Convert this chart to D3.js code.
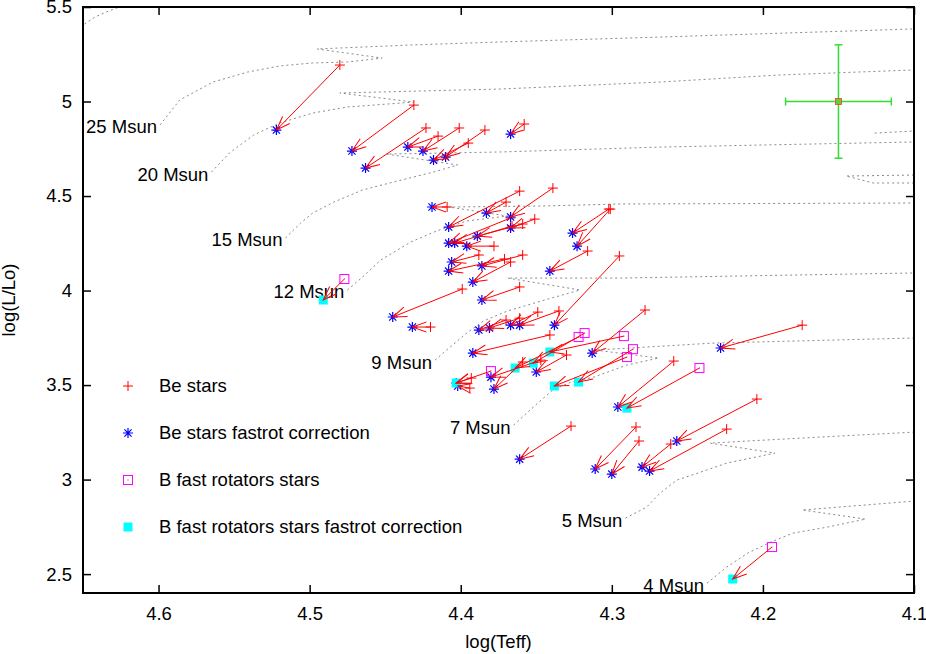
<!DOCTYPE html>
<html>
<head>
<meta charset="utf-8">
<script src="https://cdn.jsdelivr.net/npm/d3@7"></script>
<style>
  body { margin: 0; background: #fff; }
  text { font-family: "Liberation Sans", Arial, sans-serif; font-size: 18.5px; fill: #000; }
</style>
</head>
<body>
<svg class="chart" width="926" height="654"></svg>
<script>
// ---- data (log Teff, log L/Lo) ----
let beTeff     = [4.480, 4.431, 4.423, 4.415, 4.401, 4.384, 4.395, 4.358,
                  4.409, 4.370, 4.361, 4.339, 4.351, 4.359, 4.367, 4.366, 4.378, 4.388, 4.359, 4.367, 4.371, 4.361, 4.399, 4.420, 4.349, 4.335, 4.370, 4.361, 4.295, 4.302, 4.301, 4.316,
                  4.341, 4.278, 4.174, 4.259, 4.204, 4.284, 4.282, 4.261, 4.224, 4.327, 4.330, 4.359, 4.347, 4.393, 4.394];
let beLum      = [5.193, 4.981, 4.860, 4.817, 4.860, 4.849, 4.780, 4.881,
                  4.442, 4.468, 4.526, 4.542, 4.378, 4.352, 4.384, 4.341, 4.235, 4.188, 4.188, 4.151, 4.167, 4.019, 4.008, 3.807, 3.886, 3.892, 3.844, 3.854, 4.183, 4.431, 4.431, 4.209,
                  3.765, 3.897, 3.817, 3.627, 3.426, 3.278, 3.204, 3.188, 3.267, 3.283, 3.659, 3.622, 3.632, 3.537, 3.484];
let beCorrTeff = [4.522, 4.472, 4.463, 4.435, 4.425, 4.410, 4.418, 4.367,
                  4.419, 4.383, 4.408, 4.367, 4.367, 4.389, 4.408, 4.404, 4.396, 4.406, 4.386, 4.392, 4.408, 4.386, 4.445, 4.432, 4.367, 4.361, 4.388, 4.381, 4.338, 4.326, 4.323, 4.341,
                  4.392, 4.313, 4.228, 4.296, 4.257, 4.311, 4.300, 4.280, 4.275, 4.361, 4.350, 4.378, 4.380, 4.403, 4.402];
let beCorrLum  = [4.849, 4.738, 4.648, 4.759, 4.738, 4.706, 4.690, 4.828,
                  4.442, 4.410, 4.336, 4.389, 4.331, 4.288, 4.251, 4.251, 4.235, 4.151, 4.130, 4.045, 4.103, 3.950, 3.860, 3.807, 3.817, 3.817, 3.791, 3.802, 3.817, 4.304, 4.235, 4.103,
                  3.669, 3.669, 3.696, 3.384, 3.204, 3.056, 3.029, 3.066, 3.045, 3.108, 3.569, 3.479, 3.542, 3.511, 3.495];

let bfTeff     = [4.477, 4.380, 4.322, 4.318, 4.292, 4.286, 4.290, 4.242, 4.194];
let bfLum      = [4.061, 3.574, 3.754, 3.775, 3.759, 3.690, 3.648, 3.590, 2.643];
let bfCorrTeff = [4.491, 4.403, 4.364, 4.352, 4.341, 4.322, 4.338, 4.290, 4.220];
let bfCorrLum  = [3.950, 3.511, 3.590, 3.616, 3.675, 3.516, 3.495, 3.378, 2.474];

// evolutionary tracks
let track40 = [[4.649,5.410],[4.642,5.447],[4.633,5.479],[4.624,5.505]];
let track25 = [[4.599,4.876],[4.586,5.008],[4.564,5.103],[4.541,5.156],[4.520,5.188],[4.498,5.204],[4.475,5.209],[4.452,5.230],[4.495,5.278],[4.433,5.299],[4.374,5.315],[4.268,5.341],[4.100,5.384]];
let track20 = [[4.565,4.627],[4.553,4.728],[4.537,4.823],[4.520,4.886],[4.498,4.939],[4.475,4.971],[4.431,4.997],[4.480,5.045],[4.374,5.066],[4.268,5.103],[4.190,5.140],[4.100,5.167]];
let track15 = [[4.516,4.278],[4.506,4.357],[4.498,4.410],[4.484,4.468],[4.465,4.532],[4.447,4.569],[4.418,4.627],[4.402,4.664],[4.449,4.722],[4.374,4.733],[4.268,4.759],[4.100,4.786]];
let track12 = [[4.475,4.003],[4.465,4.071],[4.453,4.161],[4.433,4.257],[4.416,4.315],[4.396,4.368],[4.369,4.394],[4.408,4.442],[4.347,4.447],[4.294,4.458],[4.100,4.463]];
let track9  = [[4.417,3.632],[4.407,3.701],[4.396,3.775],[4.385,3.839],[4.369,3.892],[4.347,3.944],[4.321,4.003],[4.369,4.066],[4.294,4.066],[4.100,4.093]];
let track7  = [[4.365,3.288],[4.349,3.405],[4.339,3.474],[4.327,3.516],[4.312,3.542],[4.290,3.606],[4.269,3.643],[4.311,3.685],[4.233,3.722],[4.100,3.749]];
let track5  = [[4.291,2.796],[4.277,2.854],[4.268,2.929],[4.257,2.997],[4.241,3.040],[4.224,3.087],[4.192,3.140],[4.235,3.193],[4.162,3.225],[4.100,3.251]];
let track4  = [[4.237,2.452],[4.224,2.537],[4.210,2.611],[4.195,2.669],[4.180,2.717],[4.157,2.749],[4.132,2.791],[4.174,2.839],[4.100,2.886]];
let loopA   = [[4.126,4.833],[4.100,4.844]];
let loopB   = [[4.100,4.611],[4.145,4.606],[4.127,4.569],[4.100,4.569]];

let trackLabels = ['25 Msun', '20 Msun', '15 Msun', '12 Msun', '9 Msun', '7 Msun', '5 Msun', '4 Msun'];
let labelledTracks = [track25, track20, track15, track12, track9, track7, track5, track4];

let errTeff = [4.15], errLum = [5.0], errDTeff = [0.035], errDLum = [0.3];

let xTicks = [4.6, 4.5, 4.4, 4.3, 4.2, 4.1];
let xTickLabels = ['4.6', '4.5', '4.4', '4.3', '4.2', '4.1'];
let yTicks = [2.5, 3, 3.5, 4, 4.5, 5, 5.5];
let yTickLabels = ['2.5', '3', '3.5', '4', '4.5', '5', '5.5'];

let legendNames = ['Be stars', 'Be stars fastrot correction', 'B fast rotators stars', 'B fast rotators stars fastrot correction'];

// ---- layout ----
let margin = { top: 7, right: 12, bottom: 61, left: 83 };
let width = 926 - margin.left - margin.right;
let height = 654 - margin.top - margin.bottom;

let x = d3.scaleLinear().domain([4.65, 4.1]).range([0, width]);
let y = d3.scaleLinear().domain([2.4, 5.5]).range([height, 0]);

let svg = d3.select('.chart');
let defs = svg.append('defs');

defs.append('clipPath').attr('id', 'plotclip')
  .append('rect').attr('width', width).attr('height', height);

defs.append('marker')
    .attr('id', 'head')
    .attr('markerUnits', 'userSpaceOnUse')
    .attr('viewBox', '-16 -8 18 16')
    .attr('markerWidth', 18).attr('markerHeight', 16)
    .attr('refX', 0).attr('refY', 0)
    .attr('orient', 'auto')
  .append('path')
    .attr('d', 'M-14,-5L0,0L-14,5')
    .attr('fill', 'none')
    .attr('stroke', '#ff0000')
    .attr('stroke-width', 1);

let chart = svg.append('g')
    .attr('transform', 'translate(' + margin.left + ',' + margin.top + ')');

// axes: inward ticks on all four sides
let xAxis = d3.axisBottom(x).tickValues(xTicks).tickSize(-8).tickPadding(14)
    .tickFormat((d, i) => xTickLabels[i]);
let yAxis = d3.axisLeft(y).tickValues(yTicks).tickSize(-8).tickPadding(11)
    .tickFormat((d, i) => yTickLabels[i]);

chart.append('g').attr('transform', 'translate(0,' + height + ')').call(xAxis);
chart.append('g').call(yAxis);
chart.append('g').call(d3.axisTop(x).tickValues(xTicks).tickSize(-8).tickFormat(''));
chart.append('g').attr('transform', 'translate(' + width + ',0)')
    .call(d3.axisRight(y).tickValues(yTicks).tickSize(-8).tickFormat(''));

chart.selectAll('.domain').remove();
chart.selectAll('.tick line').attr('stroke', '#000').attr('stroke-width', 1.5);
chart.selectAll('.tick text').style('font-size', '18.5px').attr('fill', '#000');

// tracks
let line = d3.line().x(d => x(d[0])).y(d => y(d[1]));
let allTracks = labelledTracks.concat([track40, loopA, loopB]);

chart.append('g').attr('clip-path', 'url(#plotclip)')
  .selectAll('path')
    .data(allTracks)
  .enter().append('path')
    .attr('d', line)
    .attr('fill', 'none')
    .attr('stroke', '#8a8a8a')
    .attr('stroke-width', 1)
    .attr('stroke-dasharray', '2,3');

chart.append('g').selectAll('text')
    .data(labelledTracks)
  .enter().append('text')
    .attr('x', d => x(d[0][0]) - 3)
    .attr('y', d => y(d[0][1]) + 2)
    .attr('dy', '0.35em')
    .attr('text-anchor', 'end')
    .text((d, i) => trackLabels[i]);

// symbols
let plusPath = 'M-5,0H5M0,-5V5';
let starPath = 'M-5,0H5M0,-5V5M-3.6,-3.6L3.6,3.6M-3.6,3.6L3.6,-3.6';

function drawPlus(g, cx, cy) {
  g.append('path').attr('transform', 'translate(' + cx + ',' + cy + ')')
    .attr('d', plusPath).attr('stroke', '#ff0000').attr('stroke-width', 1).attr('fill', 'none');
}
function drawStar(g, cx, cy) {
  g.append('path').attr('transform', 'translate(' + cx + ',' + cy + ')')
    .attr('d', starPath).attr('stroke', '#0000ff').attr('stroke-width', 1.2).attr('fill', 'none');
}
function drawOpenSq(g, cx, cy) {
  g.append('rect').attr('x', cx - 4.5).attr('y', cy - 4.5).attr('width', 9).attr('height', 9)
    .attr('fill', 'none').attr('stroke', '#ff00ff').attr('stroke-width', 1);
  g.append('rect').attr('x', cx - 0.5).attr('y', cy - 0.5).attr('width', 1).attr('height', 1)
    .attr('fill', '#ff00ff');
}
function drawFillSq(g, cx, cy) {
  g.append('rect').attr('x', cx - 4.5).attr('y', cy - 4.5).attr('width', 9).attr('height', 9)
    .attr('fill', '#00ffff');
}

let pts = chart.append('g');
beTeff.forEach((t, i) => drawPlus(pts, x(t), y(beLum[i])));
beCorrTeff.forEach((t, i) => drawStar(pts, x(t), y(beCorrLum[i])));
bfTeff.forEach((t, i) => drawOpenSq(pts, x(t), y(bfLum[i])));
bfCorrTeff.forEach((t, i) => drawFillSq(pts, x(t), y(bfCorrLum[i])));

// correction arrows
let arrows = chart.append('g')
    .attr('stroke', '#ff0000')
    .attr('stroke-width', 1);

arrows.selectAll('line.be')
    .data(beTeff)
  .enter().append('line')
    .attr('x1', d => x(d))
    .attr('y1', (d, i) => y(beLum[i]))
    .attr('x2', (d, i) => x(beCorrTeff[i]))
    .attr('y2', (d, i) => y(beCorrLum[i]))
    .attr('marker-end', 'url(#head)');

arrows.selectAll('line.bf')
    .data(bfTeff)
  .enter().append('line')
    .attr('x1', d => x(d))
    .attr('y1', (d, i) => y(bfLum[i]))
    .attr('x2', (d, i) => x(bfCorrTeff[i]))
    .attr('y2', (d, i) => y(bfCorrLum[i]))
    .attr('marker-end', 'url(#head)');

// typical error bar
let eb = chart.append('g').attr('stroke', '#33dd33').attr('stroke-width', 1.5);
errTeff.forEach((t, i) => {
  let cx = x(t), cy = y(errLum[i]);
  let xl = x(t + errDTeff[i]), xr = x(t - errDTeff[i]);
  let yt = y(errLum[i] + errDLum[i]), yb = y(errLum[i] - errDLum[i]);
  eb.append('line').attr('x1', cx).attr('x2', cx).attr('y1', yt).attr('y2', yb);
  eb.append('line').attr('x1', xl).attr('x2', xr).attr('y1', cy).attr('y2', cy);
  eb.append('line').attr('x1', cx - 4).attr('x2', cx + 4).attr('y1', yt).attr('y2', yt);
  eb.append('line').attr('x1', cx - 4).attr('x2', cx + 4).attr('y1', yb).attr('y2', yb);
  eb.append('line').attr('x1', xl).attr('x2', xl).attr('y1', cy - 4).attr('y2', cy + 4);
  eb.append('line').attr('x1', xr).attr('x2', xr).attr('y1', cy - 4).attr('y2', cy + 4);
  chart.append('rect').attr('x', cx - 3).attr('y', cy - 3).attr('width', 6).attr('height', 6)
    .attr('fill', '#66cc33').attr('stroke', '#ff3333').attr('stroke-width', 0.8);
});

// legend
let legend = chart.append('g').attr('transform', 'translate(45,379)');
let legendDraw = [drawPlus, drawStar, drawOpenSq, drawFillSq];
legendNames.forEach((name, i) => {
  legendDraw[i](legend, 0, i * 47);
  legend.append('text').attr('x', 31).attr('y', i * 47).attr('dy', '0.35em').text(name);
});

// frame
chart.append('rect')
    .attr('width', width).attr('height', height)
    .attr('fill', 'none').attr('stroke', '#000').attr('stroke-width', 2);

// axis titles
chart.append('text')
    .attr('x', width / 2).attr('y', height + 55)
    .attr('text-anchor', 'middle')
    .text('log(Teff)');

chart.append('text')
    .attr('transform', 'translate(' + (-68) + ',' + (height / 2) + ') rotate(-90)')
    .attr('text-anchor', 'middle')
    .text('log(L/Lo)');
</script>
</body>
</html>
